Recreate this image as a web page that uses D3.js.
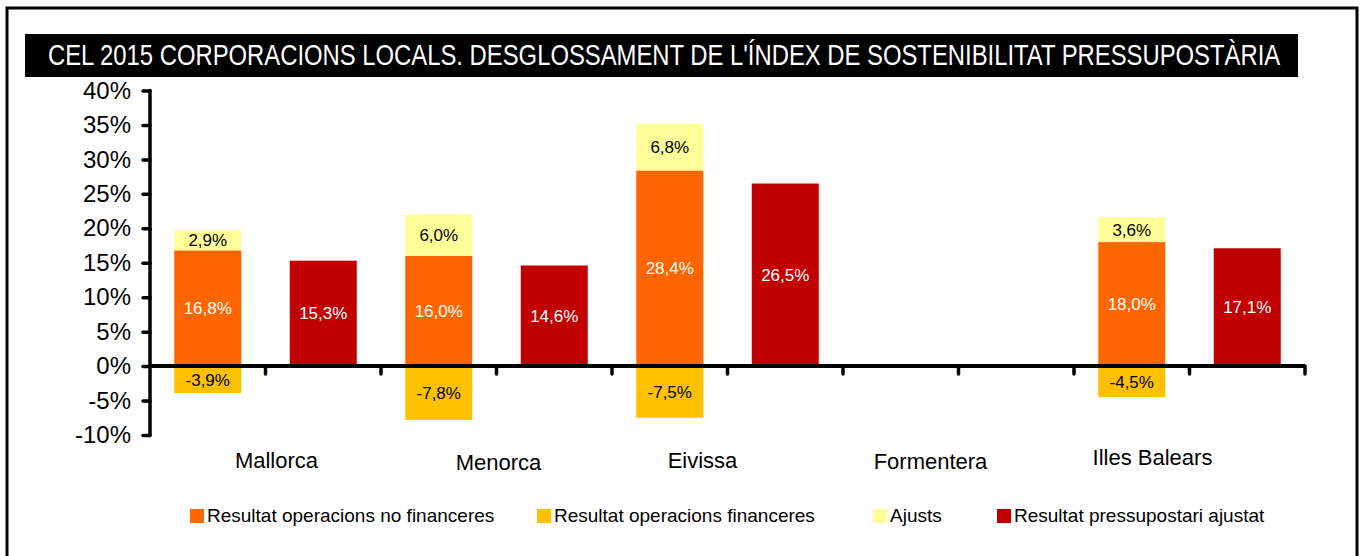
<!DOCTYPE html>
<html>
<head>
<meta charset="utf-8">
<script src="https://cdn.jsdelivr.net/npm/d3@7"></script>
<style>
  body { margin: 0; background: #fff; }
  svg { display: block; }
  text { font-family: "Liberation Sans", Arial, sans-serif; }
</style>
</head>
<body>
<div id="chart"></div>
<script>
const WIDTH = 1363;
const HEIGHT = 556;

const TITLE = "CEL 2015 CORPORACIONS LOCALS. DESGLOSSAMENT DE L'ÍNDEX DE SOSTENIBILITAT PRESSUPOSTÀRIA";

const islands = ["Mallorca", "Menorca", "Eivissa", "Formentera", "Illes Balears"];
const noFinanceres = [16.8, 16.0, 28.4, null, 18.0];
const financeres = [-3.9, -7.8, -7.5, null, -4.5];
const ajusts = [2.9, 6.0, 6.8, null, 3.6];
const ajustat = [15.3, 14.6, 26.5, null, 17.1];
const yTicks = [40, 35, 30, 25, 20, 15, 10, 5, 0, -5, -10];

const seriesNames = [
  "Resultat operacions no financeres",
  "Resultat operacions financeres",
  "Ajusts",
  "Resultat pressupostari ajustat"
];
const COLORS = ["#FF6600", "#FFC000", "#FFFF99", "#C00000"];

// category labels are not centred on the groups in the original
const LABEL_SHIFT = [[11, 468], [2, 470], [-25, 468], [-28, 469], [-37, 465]];
const LEGEND_X = [190, 537, 873, 997];

const svg = d3.select("#chart").append("svg")
  .attr("width", WIDTH)
  .attr("height", HEIGHT);

// outer frame
svg.append("rect")
  .attr("x", 7).attr("y", 8)
  .attr("width", 1350).attr("height", 570)
  .attr("fill", "none")
  .attr("stroke", "#000")
  .attr("stroke-width", 3);

// title bar
svg.append("rect")
  .attr("x", 25).attr("y", 34)
  .attr("width", 1273).attr("height", 43)
  .attr("fill", "#000");
const title = svg.append("text")
  .attr("fill", "#fff")
  .style("font-family", "'Liberation Sans Narrow', 'Arial Narrow', 'Liberation Sans', sans-serif")
  .attr("font-size", 29)
  .text(TITLE);
// squeeze the title horizontally so it fits the bar like the original
const titleW = title.node().getComputedTextLength();
title.attr("transform", `translate(48,65) scale(${1233 / titleW},1)`);

const x = d3.scaleBand()
  .domain(d3.range(islands.length * 2))
  .range([150, 1305])
  .paddingInner(0.42)
  .paddingOuter(0.21);

const y = d3.scaleLinear()
  .domain([-10, 40])
  .range([435, 90.5]);

const fmt = v => d3.format(".1f")(v).replace("−", "-").replace(".", ",") + "%";

// build stacked segments for the first column of each island
const segments = [];
islands.forEach((name, i) => {
  if (noFinanceres[i] != null) {
    segments.push({ slot: 2 * i, y0: 0, y1: noFinanceres[i], v: noFinanceres[i], s: 0 });
    segments.push({ slot: 2 * i, y0: financeres[i], y1: 0, v: financeres[i], s: 1 });
    segments.push({ slot: 2 * i, y0: noFinanceres[i], y1: noFinanceres[i] + ajusts[i], v: ajusts[i], s: 2 });
  }
  if (ajustat[i] != null) {
    segments.push({ slot: 2 * i + 1, y0: 0, y1: ajustat[i], v: ajustat[i], s: 3 });
  }
});

svg.append("g")
  .selectAll("rect")
  .data(segments)
  .enter()
  .append("rect")
  .attr("x", d => x(d.slot))
  .attr("width", x.bandwidth())
  .attr("y", d => y(d.y1))
  .attr("height", d => y(d.y0) - y(d.y1))
  .attr("fill", d => COLORS[d.s]);

svg.append("g")
  .selectAll("text")
  .data(segments)
  .enter()
  .append("text")
  .attr("x", d => x(d.slot) + x.bandwidth() / 2)
  .attr("y", d => (y(d.y0) + y(d.y1)) / 2 + 6)
  .attr("text-anchor", "middle")
  .attr("font-size", 17)
  .attr("fill", d => (d.s == 0 || d.s == 3) ? "#fff" : "#000")
  .text(d => fmt(d.v));

// y axis
const yAxis = svg.append("g")
  .attr("transform", "translate(150,0)")
  .call(d3.axisLeft(y).tickValues(yTicks).tickSize(7).tickPadding(12).tickFormat(d => d + "%"));
yAxis.select(".domain")
  .attr("d", `M0,${y(-10)}V${y(40)}`)
  .attr("stroke-width", 3.5)
  .attr("stroke-linecap", "round");
yAxis.selectAll(".tick line")
  .attr("stroke-width", 3.5)
  .attr("stroke-linecap", "round");
yAxis.selectAll(".tick text")
  .attr("font-size", 24)
  .attr("fill", "#000")
  .style("font-family", "'Liberation Sans', Arial, sans-serif");

// x axis (zero line) with ticks between the columns
const boundaries = d3.range(islands.length * 2 + 1).map(i => x.range()[0] + i * x.step());
svg.append("line")
  .attr("x1", 150).attr("x2", 1305)
  .attr("y1", y(0)).attr("y2", y(0))
  .attr("stroke", "#000")
  .attr("stroke-width", 4);
svg.append("g")
  .selectAll("line")
  .data(boundaries.slice(1))
  .enter()
  .append("line")
  .attr("x1", d => d).attr("x2", d => d)
  .attr("y1", y(0)).attr("y2", y(0) + 8)
  .attr("stroke", "#000")
  .attr("stroke-width", 3.5)
  .attr("stroke-linecap", "round");

// category labels
svg.append("g")
  .selectAll("text")
  .data(islands)
  .enter()
  .append("text")
  .attr("x", (d, i) => (x(2 * i) + x(2 * i + 1) + x.bandwidth()) / 2 + LABEL_SHIFT[i][0])
  .attr("y", (d, i) => LABEL_SHIFT[i][1])
  .attr("text-anchor", "middle")
  .attr("font-size", 22)
  .attr("fill", "#000")
  .text(d => d);

// legend
const legend = svg.append("g")
  .selectAll("g")
  .data(seriesNames)
  .enter()
  .append("g")
  .attr("transform", (d, i) => `translate(${LEGEND_X[i]},509)`);
legend.append("rect")
  .attr("width", 14).attr("height", 14)
  .attr("fill", (d, i) => COLORS[i]);
legend.append("text")
  .attr("x", 17).attr("y", 13)
  .attr("font-size", 19)
  .attr("fill", "#000")
  .text(d => d);
</script>
</body>
</html>
